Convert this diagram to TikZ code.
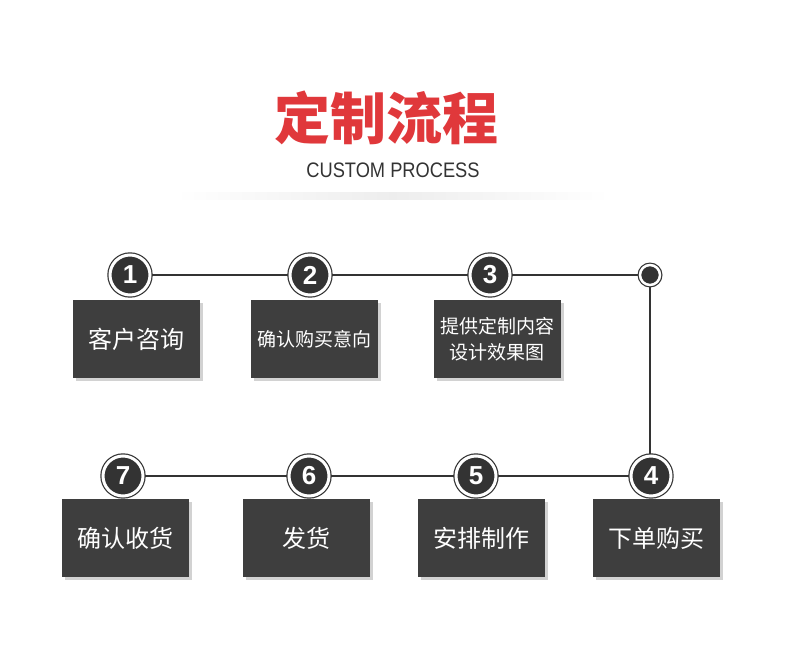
\documentclass[tikz,border=0pt]{standalone}
\usepackage{fontspec}
\usepackage{graphicx}
\newfontfamily\cjk{Noto Sans CJK SC}
\newfontfamily\latinsans{Liberation Sans}
\usetikzlibrary{shadows,backgrounds}
\definecolor{titlered}{HTML}{E0383B}
\definecolor{boxgray}{HTML}{3E3E3E}
\definecolor{dark}{HTML}{333333}
\tikzset{
  stepbox/.style={rectangle, fill=boxgray, text=white, minimum width=127pt, minimum height=78pt,
    inner sep=0pt, align=center,
    drop shadow={shadow xshift=3pt, shadow yshift=-3pt, opacity=0.35, fill=gray}},
  bigtext/.style={font=\cjk\fontsize{24}{28}\selectfont},
  smalltext/.style={font=\cjk\fontsize{19}{26}\selectfont},
  numcircle/.style={circle, fill=dark, draw=dark, line width=1.2pt, double=white, double distance=3pt,
    minimum size=40pt, inner sep=0pt, text=white, font=\latinsans\bfseries\fontsize{26}{26}\selectfont},
  endcircle/.style={circle, fill=dark, draw=dark, line width=1.2pt, double=white, double distance=2.5pt,
    minimum size=20pt, inner sep=0pt},
  flowline/.style={draw=dark, line width=2pt}
}
\begin{document}
\begin{tikzpicture}[x=1pt,y=-1pt]
\useasboundingbox (0,0) rectangle (790,645);
% title
\node[text=titlered, font=\cjk\bfseries\fontsize{56}{60}\selectfont] (title) at (386,118) {定制流程};
\node[text=dark, font=\latinsans\fontsize{21}{21}\selectfont] (sub) at (393,170) {\scalebox{0.87}[1]{CUSTOM PROCESS}};
\shade[left color=white, right color=white, middle color=gray!14] (175,192) rectangle (610,199);
% circles
\node[numcircle] (n1) at (130,275) {1};
\node[numcircle] (n2) at (310,275) {2};
\node[numcircle] (n3) at (490,275) {3};
\node[endcircle] (e) at (650,275) {};
\node[numcircle] (n4) at (651,476) {4};
\node[numcircle] (n5) at (476,476) {5};
\node[numcircle] (n6) at (309,476) {6};
\node[numcircle] (n7) at (123,476) {7};
\begin{scope}[on background layer]
\fill[white] (0,0) rectangle (790,645);
\draw[flowline] (n1) -- (n2);
\draw[flowline] (n2) -- (n3);
\draw[flowline] (n3) -- (e);
\draw[flowline] (e) -- (e |- n4) -- (n4);
\draw[flowline] (n4) -- (n5);
\draw[flowline] (n5) -- (n6);
\draw[flowline] (n6) -- (n7);
\end{scope}
% boxes
\node[stepbox, bigtext] (b1) at (136,339) {客户咨询};
\node[stepbox, smalltext] (b2) at (314,339) {确认购买意向};
\node[stepbox, smalltext] (b3) at (497,339) {提供定制内容\\设计效果图};
\node[stepbox, bigtext] (b4) at (656,538) {下单购买};
\node[stepbox, bigtext] (b5) at (481,538) {安排制作};
\node[stepbox, bigtext] (b6) at (306,538) {发货};
\node[stepbox, bigtext] (b7) at (125,538) {确认收货};
\end{tikzpicture}
\end{document}
